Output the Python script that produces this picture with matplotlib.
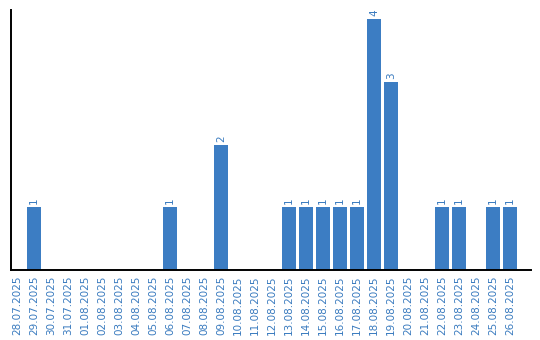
import matplotlib
matplotlib.use("Agg")
import matplotlib.pyplot as plt

# Data
dates = ["28.07.2025", "29.07.2025", "30.07.2025", "31.07.2025", "01.08.2025",
         "02.08.2025", "03.08.2025", "04.08.2025", "05.08.2025", "06.08.2025",
         "07.08.2025", "08.08.2025", "09.08.2025", "10.08.2025", "11.08.2025",
         "12.08.2025", "13.08.2025", "14.08.2025", "15.08.2025", "16.08.2025",
         "17.08.2025", "18.08.2025", "19.08.2025", "20.08.2025", "21.08.2025",
         "22.08.2025", "23.08.2025", "24.08.2025", "25.08.2025", "26.08.2025"]
counts = [0, 1, 0, 0, 0,
          0, 0, 0, 0, 1,
          0, 0, 2, 0, 0,
          0, 1, 1, 1, 1,
          1, 4, 3, 0, 0,
          1, 1, 0, 1, 1]

bar_color = "#3c7dc3"
text_color = "#3a7bbf"

fig = plt.figure(figsize=(5.4, 3.4), dpi=100)
ax = fig.add_axes([0.0198, 0.2059, 0.963, 0.7647])

x = list(range(len(dates)))
ax.bar(x, counts, width=0.82, color=bar_color)

# value labels above non-zero bars
for xi, c in zip(x, counts):
    if c > 0:
        ax.text(xi, c + 0.05, str(c), rotation=90, ha="center", va="bottom",
                color=text_color, fontsize=7.5)

ax.set_xlim(-0.37, 30.2)
ax.set_ylim(0, 4.15)
ax.set_xticks(x)
ax.set_xticklabels(dates, rotation=90, color=text_color, fontsize=7.5)
ax.set_yticks([])
ax.tick_params(axis="x", length=0, pad=4)

ax.spines["top"].set_visible(False)
ax.spines["right"].set_visible(False)
ax.spines["left"].set_linewidth(1.4)
ax.spines["bottom"].set_linewidth(1.4)

fig.savefig("out.png", dpi=100)
